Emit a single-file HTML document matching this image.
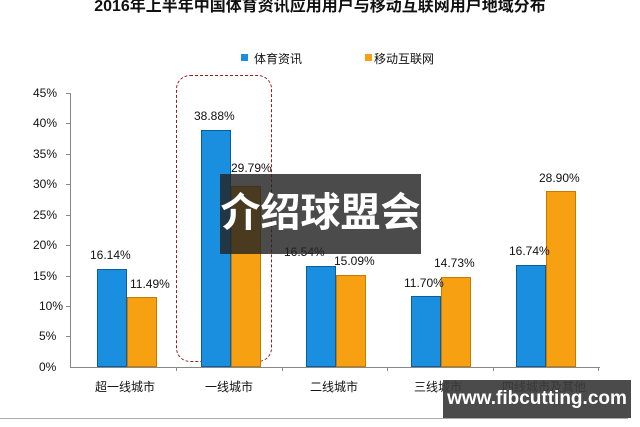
<!DOCTYPE html>
<html><head><meta charset="utf-8"><style>
body{margin:0;width:640px;height:427px;overflow:hidden;background:#fff;position:relative;font-family:"Liberation Sans","Noto Sans CJK SC",sans-serif}
.a{position:absolute}
.t{font-size:12px;color:#111;white-space:nowrap}
.b{position:absolute;background:#1a8fe0;border:1px solid #0a5ea0;box-sizing:border-box}
.o{position:absolute;background:#f7a012;border:1px solid #c77a00;box-sizing:border-box}
.k{position:absolute;left:66px;width:4px;height:1px;background:#888}
.x{position:absolute;top:367px;width:1px;height:4px;background:#888}
</style></head><body>
<div class="a" style="left:0;width:640px;top:-8px;text-align:center;font-weight:bold;font-size:16px;color:#111">2016年上半年中国体育资讯应用用户与移动互联网用户地域分布</div>
<div class="a" style="left:241px;top:54px;width:7px;height:7px;background:#1a8fe0"></div>
<div class="a t" style="left:254px;top:50px">体育资讯</div>
<div class="a" style="left:365px;top:54px;width:7px;height:7px;background:#f7a012"></div>
<div class="a t" style="left:374px;top:50px">移动互联网</div>
<div class="a" style="left:70px;top:93px;width:1px;height:275px;background:#888"></div>
<div class="a" style="left:70px;top:367px;width:530px;height:1px;background:#888"></div>
<div class="k" style="top:93px"></div><div class="k" style="top:123px"></div><div class="k" style="top:154px"></div><div class="k" style="top:184px"></div><div class="k" style="top:215px"></div><div class="k" style="top:245px"></div><div class="k" style="top:276px"></div><div class="k" style="top:306px"></div><div class="k" style="top:336px"></div>
<div class="x" style="left:176px"></div><div class="x" style="left:282px"></div><div class="x" style="left:387px"></div><div class="x" style="left:493px"></div><div class="x" style="left:598px"></div>
<div class="a t" style="left:33px;top:86px">45%</div><div class="a t" style="left:33px;top:116px">40%</div>
<div class="a t" style="left:33px;top:147px">35%</div><div class="a t" style="left:33px;top:177px">30%</div>
<div class="a t" style="left:33px;top:208px">25%</div><div class="a t" style="left:33px;top:238px">20%</div>
<div class="a t" style="left:33px;top:269px">15%</div><div class="a t" style="left:39px;top:299px">10%</div>
<div class="a t" style="left:39px;top:329px">5%</div><div class="a t" style="left:39px;top:360px">0%</div>
<div class="a" style="left:176px;top:75px;width:94px;height:285px;border:1.5px dashed #9b1b1b;border-radius:14px"></div>
<div class="b" style="left:97px;top:269px;width:30px;height:98px"></div><div class="o" style="left:127px;top:297px;width:30px;height:70px"></div>
<div class="b" style="left:201px;top:130px;width:30px;height:237px"></div><div class="o" style="left:231px;top:186px;width:30px;height:181px"></div>
<div class="b" style="left:306px;top:266px;width:30px;height:101px"></div><div class="o" style="left:336px;top:275px;width:30px;height:92px"></div>
<div class="b" style="left:411px;top:296px;width:30px;height:71px"></div><div class="o" style="left:441px;top:277px;width:30px;height:90px"></div>
<div class="b" style="left:516px;top:265px;width:30px;height:102px"></div><div class="o" style="left:546px;top:191px;width:30px;height:176px"></div>
<div class="a t" style="left:90px;top:248px">16.14%</div><div class="a t" style="left:130px;top:277px">11.49%</div>
<div class="a t" style="left:194px;top:109px">38.88%</div><div class="a t" style="left:231px;top:161px">29.79%</div>
<div class="a t" style="left:284px;top:245px">16.54%</div><div class="a t" style="left:334px;top:254px">15.09%</div>
<div class="a t" style="left:404px;top:276px">11.70%</div><div class="a t" style="left:434px;top:256px">14.73%</div>
<div class="a t" style="left:509px;top:244px">16.74%</div><div class="a t" style="left:539px;top:171px">28.90%</div>
<div class="a t" style="left:95px;top:378px">超一线城市</div><div class="a t" style="left:205px;top:378px">一线城市</div>
<div class="a t" style="left:310px;top:378px">二线城市</div><div class="a t" style="left:414px;top:378px">三线城市</div>
<div class="a t" style="left:502px;top:378px">四线城市及其他</div>
<div class="a" style="left:0;top:418px;width:628px;height:1px;background:#aaa"></div>
<div class="a" style="left:220px;top:174px;width:201px;height:80px;background:rgba(35,35,35,0.82)"></div>
<div class="a" style="left:220px;top:188px;width:201px;text-align:center;color:#fff;font-weight:bold;font-size:40px;line-height:50px">介绍球盟会</div>
<div class="a" style="left:443px;top:380px;width:188px;height:38px;background:rgba(60,60,60,0.92);color:#fff;font-weight:bold;font-size:19px;line-height:38px;text-align:center">www.fibcutting.com</div>
</body></html>
